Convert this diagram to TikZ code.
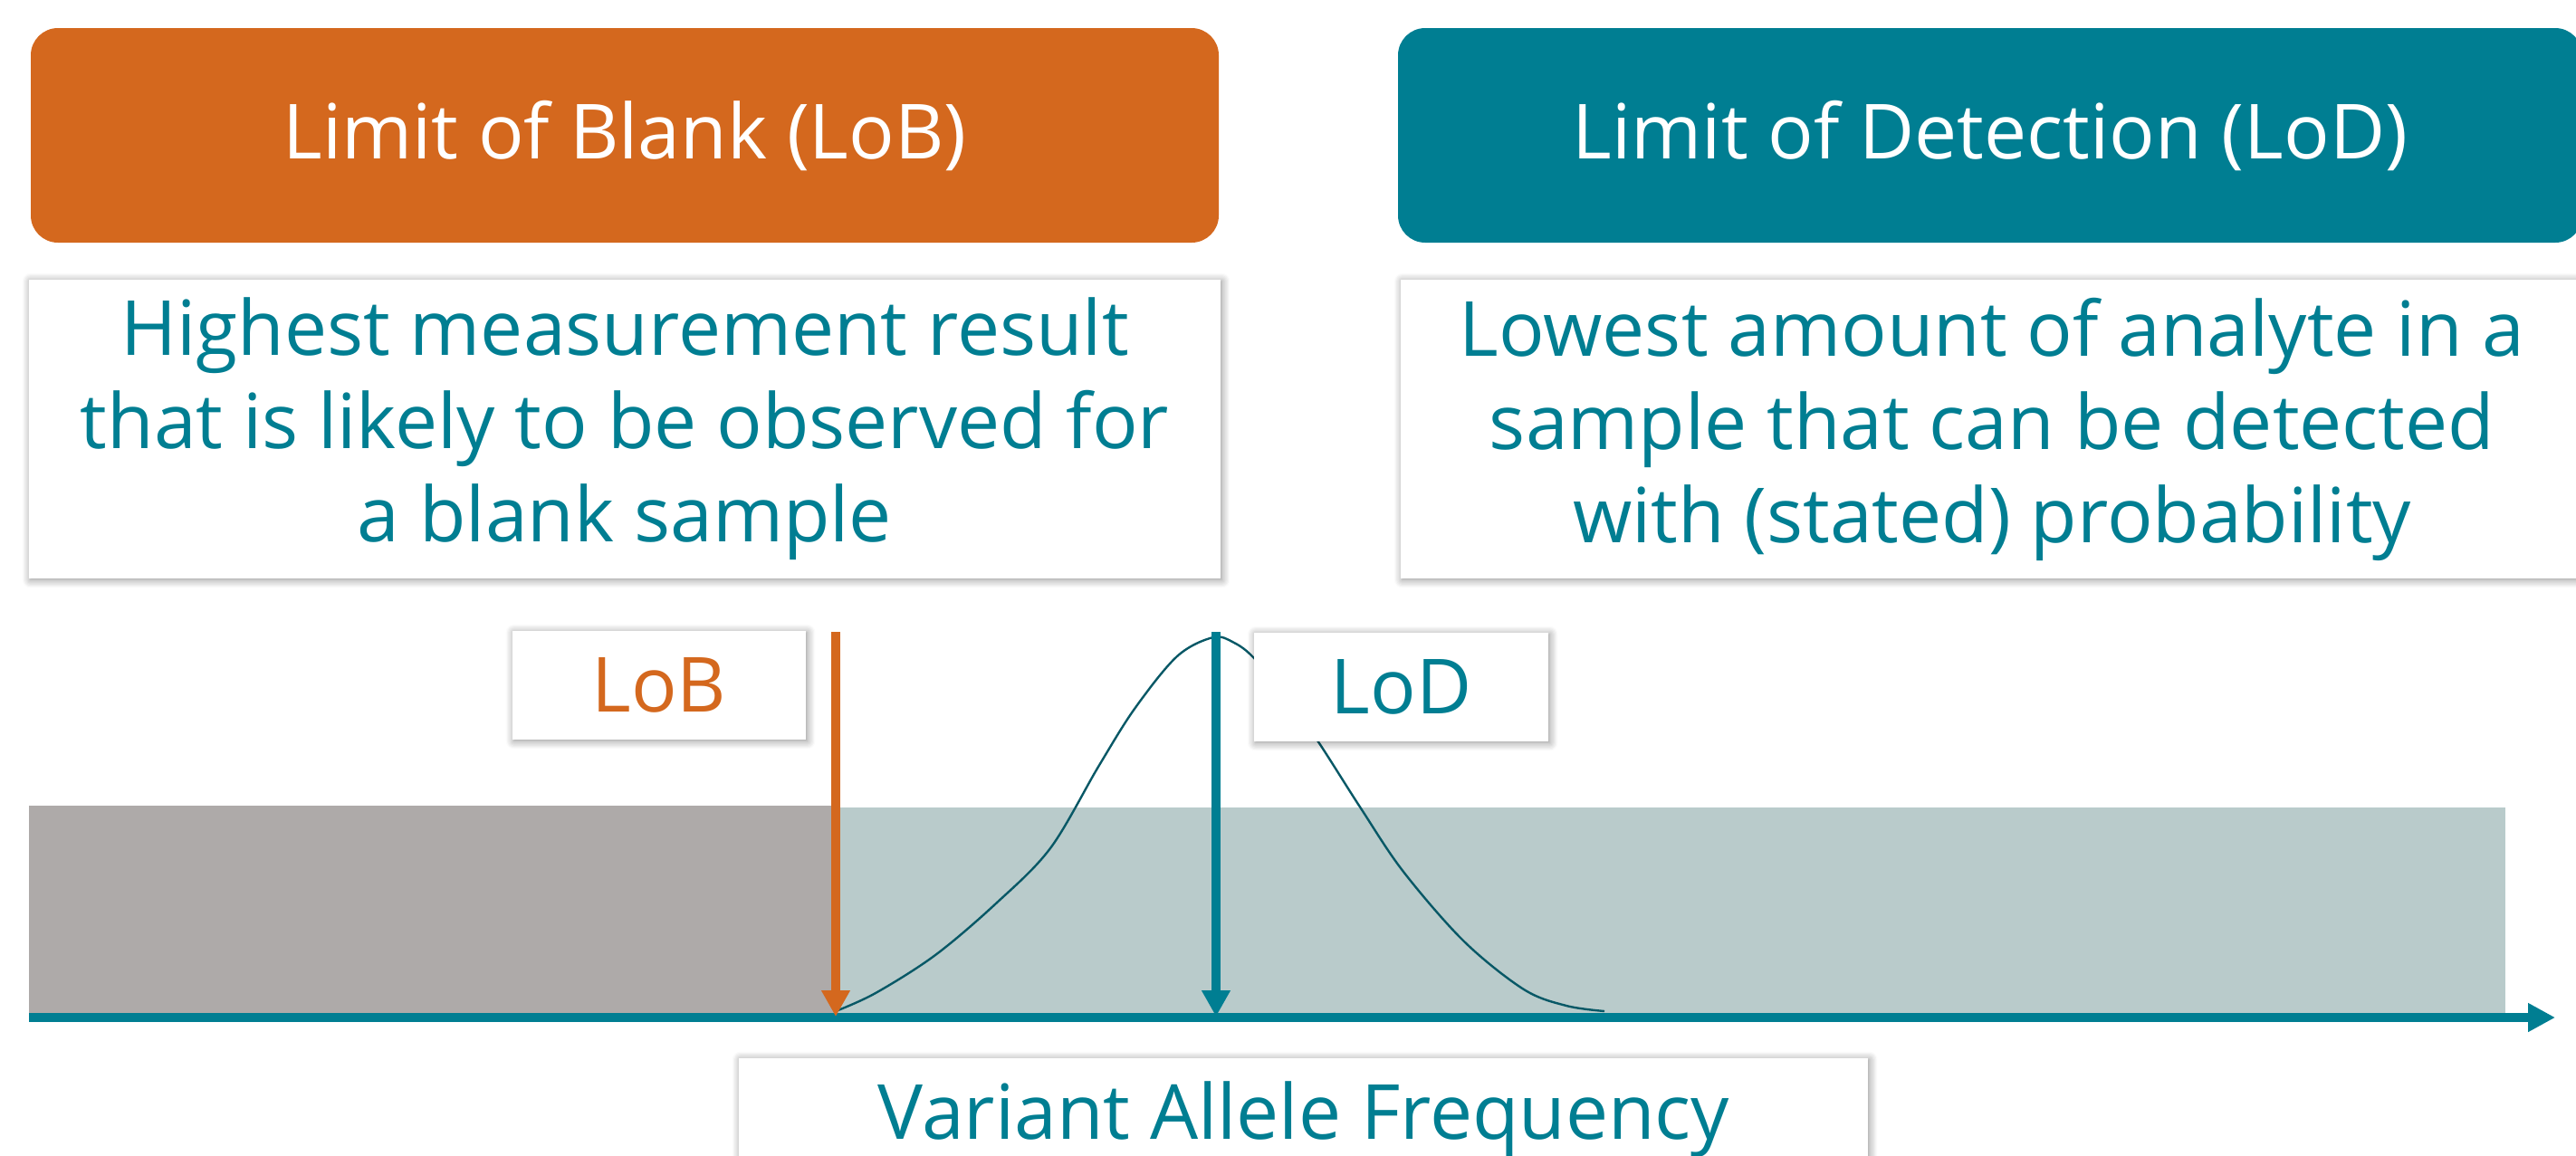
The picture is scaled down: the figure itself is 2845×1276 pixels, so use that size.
\documentclass[tikz,border=0pt]{standalone}
\usepackage{fontspec}
\setmainfont{Open Sans}
\usetikzlibrary{arrows.meta,shadows.blur}
\definecolor{lobor}{RGB}{212,104,30}
\definecolor{lodteal}{RGB}{0,126,146}
\definecolor{blankgray}{RGB}{174,170,169}
\definecolor{detgray}{RGB}{185,203,203}
\definecolor{curvecol}{RGB}{8,88,102}
\tikzset{
  titlebox/.style={rounded corners=7.5pt, draw=none, text=white, inner sep=0pt,
    font=\fontsize{21}{25.75}\selectfont, minimum height=59.25pt},
  softshadow/.style={blur shadow={shadow xshift=0.4pt, shadow yshift=-0.4pt,
    shadow blur radius=2.2pt, shadow blur steps=8, shadow opacity=45}},
  descbox/.style={fill=white, softshadow, text=lodteal, align=center, inner sep=0pt,
    font=\fontsize{21}{25.75}\selectfont, minimum height=82.5pt},
  labelbox/.style={fill=white, softshadow, inner sep=0pt,
    font=\fontsize{21}{25.75}\selectfont, minimum height=30pt},
  axisline/.style={lodteal, line width=2.5pt, -{Triangle[length=7.5pt,width=7.5pt]}},
  markarrow/.style={line width=2.5pt, -{Triangle[length=7.25pt,width=7.5pt]}},
}
\begin{document}
\begin{tikzpicture}[x=0.25pt, y=-0.25pt]
\useasboundingbox (0,0) rectangle (2845,1276);
% title boxes
\node[titlebox, fill=lobor, minimum width=328pt] (lobtitle) at (690,149.5) {Limit of Blank (LoB)};
\node[titlebox, fill=lodteal, minimum width=327pt] (lodtitle) at (2198,149.5) {Limit of Detection (LoD)};
% description boxes
\node[descbox, minimum width=329pt] (lobdesc) at (690,474)
  {Highest measurement result\\that is likely to be observed for\\a blank sample};
\node[descbox, minimum width=326.5pt] (loddesc) at (2200,474)
  {Lowest amount of analyte in a\\sample that can be detected\\with (stated) probability};
% background bands
\fill[blankgray] (32,890) rectangle (923,1119);
\fill[detgray] (923,892) rectangle (2767,1119);
% distribution curve
\draw[curvecol, line width=0.6pt] plot[smooth, tension=0.55] coordinates {
  (923,1117) (967,1097) (1033,1055) (1100,998) (1160,937) (1213,847)
  (1253,783) (1300,725) (1340,704) (1363,710) (1385,727) (1420,770)
  (1455,818) (1503,893) (1550,963) (1617,1040) (1683,1093) (1730,1111) (1772,1117)};
% axis
\coordinate (axstart) at (32,1124);
\coordinate (axend) at (2822,1124);
\draw[axisline] (axstart) -- (axend);
% markers
\coordinate (lobtop) at (923,698);
\coordinate (lobtip) at (923,1123);
\coordinate (lodtop) at (1343,698);
\coordinate (lodtip) at (1343,1123);
\draw[markarrow, lobor] (lobtop) -- (lobtip);
\draw[markarrow, lodteal] (lodtop) -- (lodtip);
% labels
\node[labelbox, text=lobor, minimum width=81pt] (lob) at (728,757) {LoB};
\node[labelbox, text=lodteal, minimum width=81.25pt] (lod) at (1547.5,759) {LoD};
% axis caption
\node[labelbox, minimum width=311.75pt, minimum height=33pt, anchor=north] (vafbox) at (1439.5,1168) {};
\node[anchor=base, text=lodteal, inner sep=0pt, font=\fontsize{21}{25.75}\selectfont] (vaf) at (1440,1258) {Variant Allele Frequency};
\end{tikzpicture}
\end{document}
